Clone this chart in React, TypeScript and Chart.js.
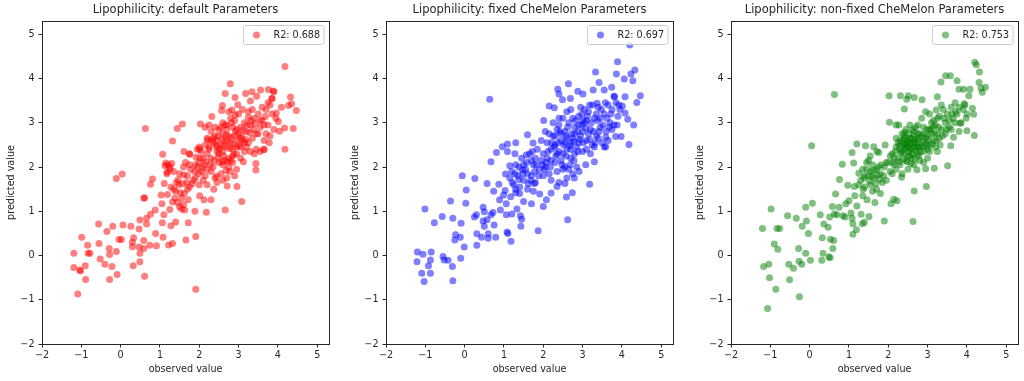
import React, { useEffect, useRef } from "react";
import { Chart, registerables } from "chart.js";

Chart.register(...registerables);

const panelTitles = [
  "Lipophilicity: default Parameters",
  "Lipophilicity: fixed CheMelon Parameters",
  "Lipophilicity: non-fixed CheMelon Parameters",
];
const r2Labels = ["R2: 0.688", "R2: 0.697", "R2: 0.753"];
const panelColors = ["rgba(255,0,0,0.5)", "rgba(0,0,255,0.5)", "rgba(0,128,0,0.5)"];
const xAxisLabel = "observed value";
const yAxisLabel = "predicted value";
const axisMin = -2;
const axisMax = 5.3;
const tickStep = 1;

const defaultPoints: [number, number][] = [
  [-1.19, 0.05], [-1.19, -0.27], [-1.09, -0.87], [-1.04, -0.33], [-1.02, -0.35], [-0.99, 0.41], [-0.89, -0.54], [-0.9, -0.23],
  [-0.84, 0.23], [-0.83, 0.05], [-0.78, 0.05], [-0.56, 0.71], [-0.55, 0.27], [-0.52, -0.08], [-0.4, -0.2], [-0.35, 0.54],
  [-0.29, 0.16], [-0.28, 0.02], [-0.28, -0.54], [-0.22, -0.25], [-0.2, 0.66], [-0.11, 0.09], [-0.09, -0.43], [-0.11, 1.74],
  [0.04, 1.84], [-0.04, 0.36], [0.02, 0.36], [0.06, 0.69], [0.26, 0.66], [0.3, 0.2], [0.33, 0.4], [0.32, -0.23], [0.3, 0.3],
  [0.49, 0.8], [0.47, 0.6], [0.47, 0.19], [0.49, 0.05], [0.49, -0.14], [0.59, 1.3], [0.61, 1.3], [0.59, 0.34], [0.59, 0.16],
  [0.63, 2.87], [0.61, -0.47], [0.66, 0.84], [0.66, 0.71], [0.74, 0.23], [0.76, 0.93], [0.81, 1.73], [0.76, 1.61], [0.88, 1.03],
  [0.89, 0.5], [0.91, 0.22], [1.03, 1.37], [1.05, 1.17], [1.06, 0.74], [1.07, 2.29], [1.08, 0.41], [1.1, 0.92], [1.11, 1.63],
  [1.15, 2.09], [1.18, 1.88], [1.19, 1.38], [1.22, 0.24], [1.25, 1.04], [1.28, 0.67], [1.32, 2.59], [1.32, 1.21], [1.32, 0.27],
  [1.4, 0.76], [1.44, 2.87], [1.46, 1.71], [1.57, 2.97], [1.61, 2.35], [1.61, 1.82], [1.63, 1.03], [1.66, 0.35], [1.72, 1.26],
  [1.72, 0.74], [1.76, 2.29], [1.91, 0.43], [1.91, -0.76], [1.89, 1.0], [2.01, 2.4], [2.01, 1.35], [2.03, 2.97], [2.12, 1.26],
  [2.18, 0.98], [2.21, 2.61], [2.32, 3.14], [2.3, 1.26], [2.37, 1.5], [2.44, 1.79], [2.57, 3.28], [2.59, 3.39], [2.66, 3.66],
  [2.66, 1.03], [2.71, 1.57], [2.79, 3.88], [2.83, 3.29], [2.91, 3.57], [2.96, 1.56], [2.98, 3.41], [3.08, 1.22], [3.12, 2.12],
  [3.18, 3.66], [3.3, 3.49], [3.34, 3.7], [3.46, 3.6], [3.44, 1.93], [3.44, 2.08], [3.56, 3.74], [3.64, 2.39], [3.68, 3.14],
  [3.78, 2.55], [3.76, 3.75], [3.85, 3.55], [3.88, 3.72], [3.96, 3.22], [4.01, 3.03], [4.04, 2.81], [4.09, 3.35], [4.18, 4.27],
  [4.17, 2.88], [4.18, 2.4], [4.27, 3.39], [4.32, 3.58], [4.35, 3.43], [4.39, 2.87], [4.47, 3.28],
  [1.13, 2.03], [1.2, 2.05], [1.25, 1.95], [1.3, 2.08], [1.35, 1.9], [1.18, 1.85], [1.35, 1.5], [1.4, 1.45], [1.45, 1.2],
  [1.5, 1.1], [1.55, 1.05], [1.6, 1.15], [1.62, 1.4], [1.7, 1.5], [1.75, 1.55], [1.48, 1.6], [1.38, 1.3], [1.55, 1.3],
  [1.5, 1.85], [1.6, 2.0], [1.65, 2.1], [1.7, 1.8], [1.75, 2.3], [1.78, 1.95], [1.85, 1.7], [1.9, 1.75], [1.95, 2.0],
  [2.0, 2.1], [2.05, 1.9], [2.1, 2.2], [2.15, 1.8], [2.2, 1.95], [2.0, 1.6], [2.05, 2.35], [2.1, 1.7], [2.2, 2.3], [1.9, 2.05],
  [2.15, 2.5], [2.2, 2.65], [2.3, 2.8], [2.35, 2.55], [2.4, 2.7], [2.45, 2.45], [2.5, 2.85], [2.25, 2.4], [2.4, 2.9], [2.3, 2.2],
  [2.3, 1.9], [2.35, 2.0], [2.4, 1.75], [2.5, 2.1], [2.55, 1.85], [2.6, 2.05], [2.45, 1.65], [2.6, 1.7], [2.2, 1.6],
  [2.55, 2.5], [2.6, 2.35], [2.65, 2.6], [2.7, 2.45], [2.75, 2.2], [2.8, 2.55], [2.85, 2.4], [2.9, 2.7], [2.95, 2.3], [2.6, 2.75],
  [2.7, 2.85], [2.8, 2.15], [2.5, 2.3], [2.65, 2.15], [2.75, 2.7], [2.6, 3.0], [2.7, 2.95], [2.8, 3.1], [2.85, 2.9], [2.9, 3.05],
  [2.95, 2.85], [3.0, 3.2], [2.75, 3.25], [2.75, 2.0], [2.85, 2.1], [2.95, 1.95], [3.05, 2.2], [2.9, 1.8], [2.7, 1.75],
  [3.0, 2.75], [3.05, 2.9], [3.1, 2.6], [3.15, 3.0], [3.2, 2.8], [3.25, 3.25], [3.3, 2.95], [3.35, 2.65], [3.4, 3.1], [3.45, 2.4],
  [3.5, 3.2], [3.1, 3.3], [3.2, 2.45], [3.3, 2.35], [3.4, 2.3], [3.05, 2.45], [3.25, 2.55], [3.35, 3.3], [3.15, 2.35],
  [3.55, 2.9], [3.6, 3.05], [3.65, 2.6], [3.7, 3.3], [3.75, 2.95], [3.8, 2.7], [3.85, 3.2], [3.9, 2.85], [3.95, 3.1], [3.6, 3.35],
  [3.5, 2.75], [3.75, 3.45], [3.8, 3.4], [3.85, 3.55], [3.9, 3.7], [3.55, 2.35], [3.65, 2.4], [2.15, 2.9], [2.25, 2.95],
  [2.3, 2.6], [2.45, 2.6], [1.75, 2.05], [1.95, 2.4], [2.0, 2.45],
  [2.25, 2.45], [2.35, 2.65], [2.42, 2.5], [2.48, 2.7], [2.52, 2.4], [2.58, 2.62], [2.62, 2.48], [2.68, 2.72], [2.72, 2.58],
  [2.78, 2.42], [2.82, 2.66], [2.88, 2.52], [2.92, 2.8], [2.98, 2.6], [3.02, 2.48], [3.08, 2.72], [3.12, 2.85], [3.18, 2.62],
  [3.22, 2.95], [3.28, 2.78], [3.32, 3.05], [3.38, 2.85], [3.42, 2.98], [2.55, 2.9], [2.65, 2.95], [2.62, 2.25], [2.72, 2.12],
  [2.85, 2.25], [2.95, 2.45], [3.05, 2.65], [2.45, 2.35], [2.38, 2.15], [2.28, 2.05], [2.18, 2.12], [2.08, 1.98], [1.98, 1.85],
  [1.88, 1.9], [1.82, 1.62], [1.92, 2.22], [2.02, 2.2], [2.12, 2.05], [2.48, 2.22], [2.58, 2.12], [2.68, 1.92], [2.78, 1.9],
  [2.88, 2.28], [3.15, 2.55], [3.45, 2.75], [3.55, 3.05], [3.65, 2.95], [3.7, 2.75], [3.25, 3.12], [2.92, 3.18], [2.82, 3.0],
  [1.25, 2.0], [1.28, 1.55], [1.58, 1.62], [1.68, 1.65], [1.52, 1.42], [1.42, 1.65],
];

const fixedPoints: [number, number][] = [
  [-1.21, -0.14], [-1.2, 0.08], [-1.09, -0.4], [-1.06, 0.03], [-1.03, -0.59], [-1.01, 1.05], [-0.92, -0.23], [-0.87, -0.1],
  [-0.87, -0.4], [-0.85, 0.08], [-0.77, 0.74], [-0.57, 0.88], [-0.55, -0.02], [-0.52, -0.1], [-0.42, -0.11], [-0.36, 1.23],
  [-0.31, -0.25], [-0.3, 0.84], [-0.3, -0.57], [-0.25, 0.35], [-0.23, 0.47], [-0.11, 0.41], [-0.1, -0.06], [-0.09, 0.73],
  [-0.06, 1.8], [-0.01, 0.19], [0.03, 1.18], [0.04, 1.48], [0.25, 0.87], [0.26, 1.74], [0.3, 0.92], [0.31, 0.23], [0.31, 0.49],
  [0.43, 0.41], [0.47, 1.09], [0.47, 0.78], [0.5, 0.99], [0.5, 0.66], [0.57, 1.63], [0.57, 0.81], [0.6, 0.49], [0.6, 0.39],
  [0.64, 3.53], [0.67, 2.12], [0.67, 0.92], [0.72, 0.97], [0.74, 1.45], [0.75, 0.69], [0.81, 2.33], [0.79, 0.41], [0.87, 1.61],
  [0.89, 1.26], [0.91, 1.03], [0.96, 2.46], [0.99, 1.37], [1.03, 1.47], [1.04, 1.84], [1.06, 1.17], [1.06, 0.92], [1.08, 0.53],
  [1.1, 0.5], [1.09, 2.35], [1.09, 2.52], [1.15, 2.03], [1.17, 1.33], [1.18, 0.32], [1.2, 0.94], [1.21, 1.65], [1.28, 2.3],
  [1.3, 2.55], [1.3, 1.42], [1.33, 1.05], [1.38, 1.72], [1.42, 0.9], [1.43, 0.66], [1.45, 0.82], [1.47, 1.94], [1.5, 1.22],
  [1.57, 2.27], [1.6, 2.73], [1.7, 1.17], [1.74, 2.54], [1.77, 1.63], [1.87, 0.56], [1.91, 1.39], [2.0, 1.11], [2.01, 3.05],
  [2.03, 1.94], [2.08, 1.26], [2.15, 3.38], [2.2, 1.41], [2.28, 3.34], [2.35, 1.56], [2.37, 3.76], [2.4, 3.65], [2.49, 3.52],
  [2.55, 1.63], [2.59, 1.32], [2.62, 0.81], [2.64, 3.88], [2.69, 3.55], [2.74, 1.42], [2.79, 1.75], [2.88, 3.71], [2.91, 1.9],
  [3.01, 3.65], [3.08, 2.05], [3.18, 1.61], [3.27, 3.74], [3.3, 2.12], [3.33, 4.15], [3.37, 3.44], [3.42, 3.91], [3.55, 3.74],
  [3.59, 2.46], [3.59, 2.67], [3.74, 3.8], [3.81, 3.59], [3.84, 2.69], [3.89, 4.38], [3.86, 4.1], [3.98, 2.69], [4.01, 3.38],
  [4.06, 3.99], [4.08, 3.59], [4.08, 3.22], [4.15, 3.08], [4.18, 2.51], [4.2, 4.76], [4.23, 4.1], [4.28, 3.95], [4.3, 2.95],
  [4.33, 4.19], [4.38, 3.46], [4.47, 3.61],
  [1.15, 1.75], [1.2, 1.9], [1.25, 1.6], [1.3, 2.05], [1.35, 1.8], [1.4, 1.55], [1.45, 2.2], [1.5, 1.7], [1.55, 1.95], [1.6, 1.5],
  [1.65, 2.3], [1.7, 1.8], [1.75, 2.05], [1.8, 1.65], [1.85, 2.4], [1.9, 1.95], [1.95, 2.15], [1.6, 1.85], [1.7, 2.15], [1.8, 2.2],
  [1.5, 2.05], [1.4, 1.4], [1.3, 1.5], [1.75, 1.45], [2.0, 2.3], [2.05, 2.0], [2.1, 2.55], [2.15, 1.85], [2.2, 2.4], [2.25, 2.7],
  [2.3, 2.1], [2.35, 2.85], [2.4, 2.35], [2.45, 2.6], [2.5, 1.95], [2.55, 2.8], [2.6, 2.4], [2.65, 3.0], [2.7, 2.2], [2.75, 2.65],
  [2.8, 2.9], [2.85, 2.45], [2.9, 3.15], [2.95, 2.7], [3.0, 2.35], [3.05, 3.0], [3.1, 2.6], [3.15, 3.25], [3.2, 2.85], [3.25, 2.5],
  [3.3, 3.1], [3.35, 2.7], [3.4, 3.35], [3.45, 2.9], [3.5, 2.55], [3.55, 3.2], [3.6, 2.8], [3.65, 3.4], [3.7, 3.0], [3.75, 3.3],
  [3.8, 2.95], [3.85, 3.45], [3.9, 3.15], [3.95, 3.3], [2.1, 2.2], [2.2, 1.7], [2.3, 2.5], [2.4, 2.95], [2.5, 2.3], [2.55, 2.0],
  [2.6, 3.25], [2.7, 2.55], [2.75, 3.1], [2.8, 2.3], [2.9, 2.55], [3.0, 2.8], [3.1, 3.05], [3.2, 2.3], [3.3, 2.45], [3.4, 2.65],
  [2.45, 2.15], [2.65, 1.95], [2.85, 2.0], [2.35, 1.9], [2.15, 2.75], [2.25, 3.0], [2.5, 3.1], [2.95, 3.35], [3.05, 3.3],
  [3.25, 3.4], [3.35, 3.2], [2.6, 2.65], [2.8, 2.75], [2.9, 2.95], [3.0, 3.05], [2.7, 2.4], [2.55, 2.55], [2.35, 2.3], [2.45, 2.75],
  [1.95, 2.6], [2.0, 1.8], [2.05, 2.8], [2.2, 2.15], [3.55, 2.45], [3.65, 2.6], [3.75, 2.85], [3.45, 3.1], [3.15, 2.75],
  [2.75, 1.85], [2.6, 1.75], [2.4, 1.65], [3.1, 2.4], [3.8, 3.6],
  [2.28, 2.45], [2.38, 2.55], [2.42, 2.8], [2.52, 2.5], [2.58, 2.7], [2.62, 2.9], [2.68, 2.48], [2.72, 2.75], [2.78, 2.58],
  [2.82, 3.05], [2.88, 2.8], [2.92, 2.62], [2.98, 2.95], [3.02, 2.55], [3.08, 2.88], [3.12, 3.15], [3.18, 2.62], [3.22, 3.0],
  [3.28, 2.8], [3.32, 2.55], [3.38, 3.05], [3.42, 2.8], [3.48, 3.3], [3.52, 2.95], [2.48, 2.05], [2.58, 2.25], [2.68, 2.05],
  [2.78, 2.15], [2.88, 2.35], [2.18, 2.0], [2.08, 2.1], [1.98, 2.05], [1.88, 1.8], [1.78, 1.9], [1.68, 1.7], [1.58, 2.1],
  [1.48, 1.85], [1.38, 2.0], [1.28, 1.85], [1.62, 1.62], [1.72, 2.35], [1.82, 2.05], [2.22, 2.55], [2.32, 2.25], [2.12, 2.35],
  [3.62, 3.1], [3.72, 3.2], [3.68, 2.9], [3.58, 3.45], [2.98, 3.2], [3.18, 3.4], [2.7, 3.3], [2.4, 3.1], [2.3, 2.7], [3.92, 3.4],
  [3.88, 2.95],
];

const nonFixedPoints: [number, number][] = [
  [-1.2, 0.61], [-1.17, -0.25], [-1.07, -1.2], [-1.04, -0.2], [-1.02, -0.5], [-0.98, 1.05], [-0.9, 0.26], [-0.86, -0.76],
  [-0.83, 0.61], [-0.81, 0.14], [-0.76, 0.61], [-0.56, 0.9], [-0.53, -0.2], [-0.51, -0.55], [-0.41, -0.29], [-0.34, 0.84],
  [-0.28, 0.16], [-0.27, -0.13], [-0.26, -0.93], [-0.2, -0.2], [-0.19, 0.66], [-0.1, 1.09], [-0.1, 0.05], [-0.08, 0.78],
  [-0.03, 0.5], [0.02, -0.11], [0.05, 2.48], [0.07, 1.18], [0.27, 0.92], [0.31, -0.11], [0.32, 0.4], [0.34, 0.05], [0.36, 0.71],
  [0.47, 0.64], [0.49, -0.03], [0.52, -0.05], [0.51, 0.87], [0.53, 0.37], [0.58, 1.11], [0.59, 0.16], [0.61, 0.34], [0.63, 3.64],
  [0.63, 0.94], [0.66, 1.39], [0.69, 0.92], [0.75, 1.09], [0.76, 1.72], [0.83, 2.06], [0.85, 0.9], [0.9, 0.87], [0.92, 1.17],
  [0.97, 1.59], [1.0, 1.24], [1.05, 0.96], [1.08, 0.84], [1.08, 2.33], [1.1, 0.48], [1.1, 0.72], [1.12, 2.09], [1.14, 1.56],
  [1.15, 1.35], [1.19, 0.58], [1.2, 2.52], [1.2, 1.12], [1.25, 1.86], [1.31, 0.93], [1.34, 0.72], [1.36, 1.5], [1.39, 0.75],
  [1.42, 2.48], [1.46, 1.26], [1.51, 0.88], [1.54, 2.25], [1.63, 2.46], [1.66, 1.2], [1.71, 2.35], [1.76, 2.33], [1.9, 0.78],
  [1.92, 2.5], [2.02, 3.61], [2.03, 3.01], [2.07, 1.17], [2.14, 1.27], [2.22, 1.24], [2.2, 2.95], [2.27, 2.95], [2.31, 3.61],
  [2.34, 1.77], [2.41, 3.31], [2.47, 3.53], [2.51, 3.61], [2.63, 0.77], [2.66, 3.57], [2.66, 1.46], [2.73, 1.94], [2.86, 3.52],
  [2.95, 1.96], [2.97, 1.56], [3.17, 1.97], [3.22, 3.29], [3.25, 3.59], [3.34, 3.92], [3.46, 4.06], [3.51, 2.03], [3.58, 4.06],
  [3.59, 2.48], [3.66, 2.67], [3.75, 3.95], [3.8, 3.76], [3.83, 2.99], [3.92, 3.76], [3.93, 3.43], [3.98, 3.1], [4.0, 2.82],
  [4.05, 3.61], [4.08, 3.76], [4.14, 3.33], [4.17, 3.19], [4.19, 2.71], [4.2, 4.37], [4.24, 4.31], [4.31, 3.91], [4.32, 4.15],
  [4.36, 3.78], [4.39, 3.69], [4.47, 3.8],
  [1.3, 1.7], [1.35, 1.95], [1.4, 1.55], [1.45, 2.1], [1.5, 1.8], [1.55, 1.6], [1.6, 2.05], [1.65, 1.75], [1.7, 1.5], [1.75, 2.0],
  [1.8, 1.85], [1.85, 1.65], [1.4, 1.8], [1.5, 2.15], [1.6, 1.45], [1.7, 1.95], [1.9, 2.0], [1.95, 1.7], [1.55, 1.9], [1.25, 1.6],
  [1.35, 1.35], [1.8, 1.4], [2.0, 2.1], [2.05, 1.9], [2.1, 2.3], [2.15, 2.05], [2.2, 2.45], [2.25, 2.2], [2.3, 2.6], [2.35, 2.35],
  [2.4, 2.7], [2.45, 2.5], [2.5, 2.25], [2.55, 2.65], [2.6, 2.4], [2.65, 2.8], [2.7, 2.55], [2.75, 2.3], [2.8, 2.75], [2.85, 2.5],
  [2.9, 2.9], [2.95, 2.65], [3.0, 2.4], [3.05, 2.85], [3.1, 3.0], [3.15, 2.6], [3.2, 2.95], [3.25, 2.75], [3.3, 3.15], [3.35, 2.85],
  [3.4, 3.3], [3.45, 3.0], [3.5, 3.2], [3.55, 2.9], [3.6, 3.35], [3.65, 3.1], [3.7, 3.45], [3.75, 3.2], [3.8, 3.35], [3.85, 3.0],
  [3.9, 3.3], [2.2, 2.65], [2.3, 2.05], [2.35, 2.75], [2.4, 2.3], [2.45, 2.15], [2.5, 2.6], [2.55, 2.4], [2.6, 2.2], [2.65, 2.55],
  [2.7, 2.9], [2.75, 2.6], [2.8, 2.45], [2.85, 2.7], [2.9, 2.35], [2.95, 2.55], [3.0, 2.7], [3.05, 2.5], [3.1, 2.75], [3.15, 3.05],
  [3.2, 2.45], [3.25, 2.35], [3.3, 2.65], [3.35, 3.4], [3.45, 2.75], [2.45, 2.85], [2.55, 2.95], [2.5, 2.45], [2.6, 2.65],
  [2.7, 2.35], [2.4, 2.5], [2.3, 2.4], [2.25, 2.55], [2.15, 2.2], [2.1, 1.85], [2.2, 1.95], [2.35, 1.85], [2.5, 1.95], [2.65, 2.05],
  [2.8, 2.15], [2.9, 2.1], [3.0, 2.2], [2.75, 2.95], [3.05, 3.2], [2.85, 3.1], [2.95, 3.25], [3.6, 2.85], [3.7, 3.0], [3.8, 2.8],
  [3.95, 3.4], [4.0, 3.2], [2.55, 2.25], [2.65, 2.45], [2.75, 2.45], [2.45, 2.65], [2.35, 2.55],
  [2.28, 2.48], [2.32, 2.32], [2.38, 2.62], [2.42, 2.42], [2.48, 2.55], [2.52, 2.35], [2.58, 2.52], [2.62, 2.3], [2.68, 2.62],
  [2.72, 2.45], [2.78, 2.65], [2.82, 2.35], [2.88, 2.58], [2.92, 2.75], [2.98, 2.48], [3.02, 2.62], [3.08, 2.85], [3.12, 2.52],
  [3.18, 2.75], [3.22, 2.6], [3.28, 2.9], [3.32, 2.5], [3.38, 2.7], [3.42, 3.1], [3.48, 2.85], [2.52, 2.75], [2.62, 2.85],
  [2.42, 2.78], [2.48, 2.12], [2.58, 2.08], [2.68, 2.18], [2.38, 2.18], [2.28, 2.12], [2.18, 2.35], [2.12, 2.1], [2.05, 2.25],
  [1.95, 2.1], [1.88, 1.8], [1.82, 2.05], [1.72, 1.82], [1.62, 1.92], [1.52, 1.68], [1.45, 1.95], [1.38, 1.75], [1.58, 1.78],
  [1.68, 1.62], [1.78, 1.72], [2.78, 2.25], [2.88, 2.45], [2.98, 2.85], [3.05, 2.35], [3.15, 2.9], [3.25, 3.1], [3.55, 3.05],
  [3.62, 3.2], [3.72, 3.25], [2.55, 2.55], [2.65, 2.7], [2.45, 2.45], [2.75, 2.75],
];

const panelData = [defaultPoints, fixedPoints, nonFixedPoints];
const panelLefts = [0, 344, 689];

const FONT = "'DejaVu Sans', sans-serif";
const TEXT = "#262626";
const LINE = "#262626";
const CANVAS_W = 335;
const CANVAS_H = 381;

const framePlugin = {
  id: "mplFrameLegend",
  afterDatasetsDraw(chart: any, _args: any, opts: any) {
    const { ctx, chartArea } = chart;
    const l = Math.floor(chartArea.left) + 0.5;
    const t = Math.floor(chartArea.top) + 0.5;
    const r = Math.floor(chartArea.right) + 0.5;
    const b = Math.floor(chartArea.bottom) + 0.5;
    ctx.save();
    ctx.strokeStyle = LINE;
    ctx.lineWidth = 1;
    ctx.strokeRect(l, t, r - l, b - t);

    // legend box (matplotlib style, upper right)
    const label = opts.label as string;
    const color = opts.color as string;
    ctx.font = `9.6px ${FONT}`;
    const tw = ctx.measureText(label).width;
    const w = 30 + tw + 4;
    const h = 19;
    const bx = Math.round(chartArea.right - 5 - w) + 0.5;
    const by = Math.round(chartArea.top + 4) + 0.5;
    const rad = 2.5;
    ctx.beginPath();
    ctx.moveTo(bx + rad, by);
    ctx.lineTo(bx + w - rad, by);
    ctx.arcTo(bx + w, by, bx + w, by + rad, rad);
    ctx.lineTo(bx + w, by + h - rad);
    ctx.arcTo(bx + w, by + h, bx + w - rad, by + h, rad);
    ctx.lineTo(bx + rad, by + h);
    ctx.arcTo(bx, by + h, bx, by + h - rad, rad);
    ctx.lineTo(bx, by + rad);
    ctx.arcTo(bx, by, bx + rad, by, rad);
    ctx.closePath();
    ctx.fillStyle = "rgba(255,255,255,0.8)";
    ctx.fill();
    ctx.strokeStyle = "#cccccc";
    ctx.stroke();

    ctx.beginPath();
    ctx.arc(bx + 13, by + h / 2, 3.5, 0, Math.PI * 2);
    ctx.fillStyle = color;
    ctx.fill();

    ctx.fillStyle = TEXT;
    ctx.textAlign = "left";
    ctx.textBaseline = "middle";
    ctx.fillText(label, bx + 30, by + h / 2 + 0.5);
    ctx.restore();
  },
};

const tickFmt = (v: any) => String(v).replace("-", "\u2212");

function Panel({ index }: { index: number }) {
  const ref = useRef<HTMLCanvasElement>(null);
  useEffect(() => {
    const points = panelData[index];
    const chart = new Chart(ref.current as HTMLCanvasElement, {
      type: "scatter",
      data: {
        datasets: [
          {
            label: r2Labels[index],
            data: points.map(([x, y]) => ({ x, y })),
            backgroundColor: panelColors[index],
            borderWidth: 0,
            pointRadius: 3.5,
            pointHoverRadius: 3.5,
          },
        ],
      },
      plugins: [framePlugin],
      options: {
        animation: false,
        responsive: false,
        maintainAspectRatio: false,
        events: [],
        layout: { padding: { left: 0, right: CANVAS_W - 329, top: 0, bottom: 0 } },
        plugins: {
          legend: { display: false },
          tooltip: { enabled: false },
          title: {
            display: true,
            text: panelTitles[index],
            fullSize: false,
            color: TEXT,
            font: { family: FONT, size: 11.5, weight: "normal" as any },
            padding: { top: 3.5, bottom: 3.7 },
          },
          mplFrameLegend: { label: r2Labels[index], color: panelColors[index] },
        } as any,
        scales: {
          x: {
            type: "linear",
            position: "bottom",
            min: axisMin,
            max: axisMax,
            afterFit: (s: any) => {
              s.height = CANVAS_H - 344;
            },
            border: { display: false },
            grid: {
              display: true,
              drawOnChartArea: false,
              drawTicks: true,
              tickLength: 3.5,
              tickColor: LINE,
              tickWidth: 1,
            },
            ticks: {
              stepSize: tickStep,
              includeBounds: false,
              padding: 2,
              color: TEXT,
              font: { family: FONT, size: 9.6 },
              callback: tickFmt,
              maxRotation: 0,
            },
            title: {
              display: true,
              text: xAxisLabel,
              color: TEXT,
              font: { family: FONT, size: 9.6 },
              padding: { top: 0, bottom: 6.2 },
            },
          },
          y: {
            type: "linear",
            position: "left",
            min: axisMin,
            max: axisMax,
            afterFit: (s: any) => {
              s.width = 42;
            },
            border: { display: false },
            grid: {
              display: true,
              drawOnChartArea: false,
              drawTicks: true,
              tickLength: 3.5,
              tickColor: LINE,
              tickWidth: 1,
            },
            ticks: {
              stepSize: tickStep,
              includeBounds: false,
              padding: 4,
              color: TEXT,
              font: { family: FONT, size: 9.6 },
              callback: tickFmt,
            },
            title: {
              display: true,
              text: yAxisLabel,
              color: TEXT,
              font: { family: FONT, size: 9.6 },
              padding: { top: 6.2, bottom: 0 },
            },
          },
        },
      } as any,
    });
    return () => chart.destroy();
  }, [index]);
  return (
    <canvas
      ref={ref}
      width={CANVAS_W}
      height={CANVAS_H}
      style={{
        position: "absolute",
        left: panelLefts[index],
        top: 0,
        width: CANVAS_W,
        height: CANVAS_H,
      }}
    />
  );
}

export default function App() {
  return (
    <div
      style={{
        position: "absolute",
        left: 0,
        top: 0,
        width: 1024,
        height: 381,
        background: "#ffffff",
        overflow: "hidden",
      }}
    >
      <Panel index={0} />
      <Panel index={1} />
      <Panel index={2} />
    </div>
  );
}
